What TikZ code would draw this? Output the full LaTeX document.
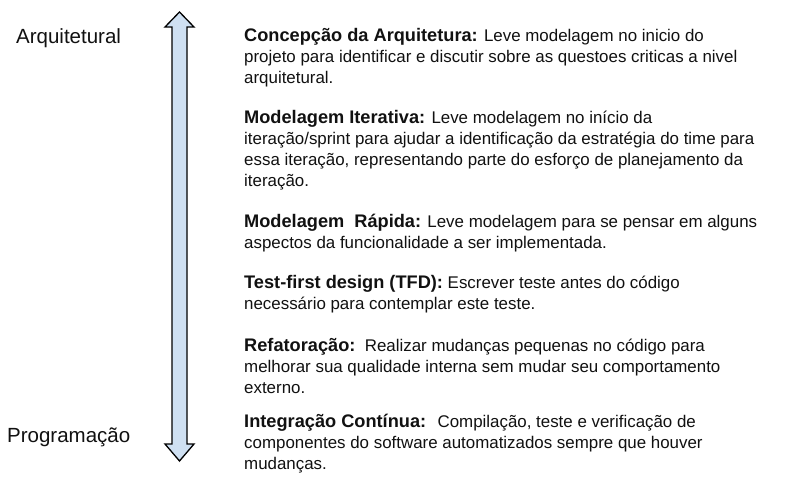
\documentclass[tikz,border=0pt]{standalone}
\usepackage{fontspec}
\setmainfont{Liberation Sans}
\definecolor{arrowfill}{HTML}{CFE0F2}
\definecolor{txt}{HTML}{111111}
\newcommand{\hd}[1]{{\fontsize{18.2}{21}\selectfont\bfseries #1}}
\begin{document}
\begin{tikzpicture}[x=1pt,y=-1pt,
  side/.style={anchor=west,inner sep=0pt,font=\fontsize{20.5}{24}\selectfont,text=txt},
  para/.style={anchor=north west,inner sep=0pt,align=left,font=\fontsize{16.9}{21}\selectfont,text=txt}]
\useasboundingbox[fill=white] (0,0) rectangle (792,479);
% double arrow
\draw[fill=arrowfill,line width=1.3pt,line join=miter]
  (179.5,12) -- (194,27) -- (187,27) -- (187,444) -- (194,444) -- (179.5,461)
  -- (165,444) -- (172,444) -- (172,27) -- (165,27) -- cycle;
\node[side] (arq) at (16,38) {Arquitetural};
\node[side] (prog) at (7,437) {Programação};
\node[para] (p1) at (244,28) {\hd{Concepção da Arquitetura:} Leve modelagem no inicio do\\projeto para identificar e discutir sobre as questoes criticas a nivel\\arquitetural.};
\node[para] (p2) at (244,110.5) {\hd{Modelagem Iterativa:} Leve modelagem no início da\\iteração/sprint para ajudar a identificação da estratégia do time para\\essa iteração, representando parte do esforço de planejamento da\\iteração.};
\node[para] (p3) at (244,213.5) {\hd{Modelagem\ \ Rápida:} Leve modelagem para se pensar em alguns\\aspectos da funcionalidade a ser implementada.};
\node[para] (p4) at (244,275.5) {\hd{Test-first design (TFD):} Escrever teste antes do código\\necessário para contemplar este teste.};
\node[para] (p5) at (244,338.5) {\hd{Refatoração:}\ \ Realizar mudanças pequenas no código para\\melhorar sua qualidade interna sem mudar seu comportamento\\externo.};
\node[para] (p6) at (244,413.5) {\hd{Integração Contínua:}\ \ \hspace{2pt}Compilação, teste e verificação de\\componentes do software automatizados sempre que houver\\mudanças.};
\end{tikzpicture}
\end{document}
